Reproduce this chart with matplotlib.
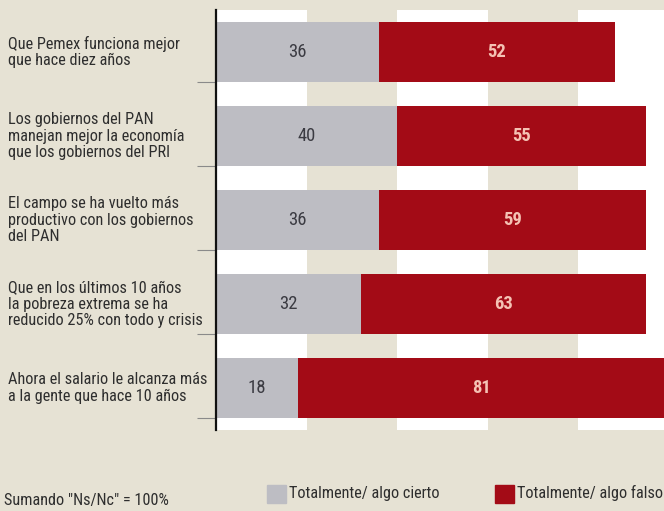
import numpy as np
import matplotlib.pyplot as plt
from matplotlib import font_manager
from matplotlib.patches import Rectangle

# podaci
categories = [
    "Que Pemex funciona mejor\nque hace diez años",
    "Los gobiernos del PAN\nmanejan mejor la economía\nque los gobiernos del PRI",
    "El campo se ha vuelto más\nproductivo con los gobiernos\ndel PAN",
    "Que en los últimos 10 años\nla pobreza extrema se ha\nreducido 25% con todo y crisis",
    "Ahora el salario le alcanza más\na la gente que hace 10 años",
]
cierto = [36, 40, 36, 32, 18]
falso = [52, 55, 59, 63, 81]
series_names = ["Totalmente/ algo cierto", "Totalmente/ algo falso"]
note = 'Sumando "Ns/Nc" = 100%'

BG = "#e6e2d4"
GRAY = "#bdbdc3"
RED = "#a30b16"
TXT = "#2e2e2e"

# najuzi dostupni font
available = {f.name for f in font_manager.fontManager.ttflist}
font = "DejaVu Sans"
for name in ["Liberation Sans Narrow", "Roboto Condensed", "Roboto", "Liberation Sans"]:
    if name in available:
        font = name
        break
plt.rcParams["font.family"] = [font, "DejaVu Sans"]

W, H = 664, 511
fig = plt.figure(figsize=(W / 100, H / 100), dpi=100, facecolor=BG)

# velicina fonta tako da prvi redak bude sirok ~171 px
r = fig.canvas.get_renderer()
probe = fig.text(0, 0, "Que Pemex funciona mejor", fontsize=10)
fs = 10 * 171 / probe.get_window_extent(r).width
probe.remove()

ax = fig.add_axes([216 / W, 1 - 430 / H, (W - 216) / W, 420 / H])
ax.set_facecolor(BG)

# bijele trake u pozadini
for x0 in [0, 40, 80]:
    ax.axvspan(x0, x0 + 20, color="white", zorder=0, lw=0)

y = np.arange(len(categories))
h = 0.714
ax.barh(y, cierto, height=h, color=GRAY, zorder=2)
ax.barh(y, falso, left=cierto, height=h, color=RED, zorder=2)

for i in range(len(categories)):
    ax.text(cierto[i] / 2, y[i], str(cierto[i]), ha="center", va="center",
            fontsize=fs * 1.15, color="#3b3b42", zorder=3)
    ax.text(cierto[i] + falso[i] / 2, y[i], str(falso[i]), ha="center", va="center",
            fontsize=fs * 1.15, color="#f5c2b4", fontweight="bold", zorder=3)
    ax.text(-208 / 4.53, y[i], categories[i], ha="left", va="center",
            fontsize=fs, color=TXT, linespacing=1.1)

ax.set_xlim(0, (W - 216) / 4.53)
ax.set_ylim(len(categories) - 0.5, -0.5)

ax.set_xticks([])
ax.set_yticks(y + h / 2)
ax.set_yticklabels([])
ax.tick_params(axis="y", length=14, width=0.8, color="#8a8a8a")
for s in ["top", "right", "bottom"]:
    ax.spines[s].set_visible(False)
ax.spines["left"].set_linewidth(1.6)
ax.spines["left"].set_color("#111111")
ax.spines["left"].set_zorder(4)

# legenda
for (x0, col, name) in [(267, GRAY, series_names[0]), (495, RED, series_names[1])]:
    fig.patches.append(Rectangle((x0 / W, 1 - 503 / H), 19 / W, 18 / H,
                                 transform=fig.transFigure, color=col))
    fig.text((x0 + 22) / W, 1 - 493 / H, name, ha="left", va="center",
             fontsize=fs, color=TXT)

fig.text(4 / W, 1 - 500 / H, note, ha="left", va="center", fontsize=fs, color=TXT)

fig.savefig("out.png", dpi=100, facecolor=BG)
